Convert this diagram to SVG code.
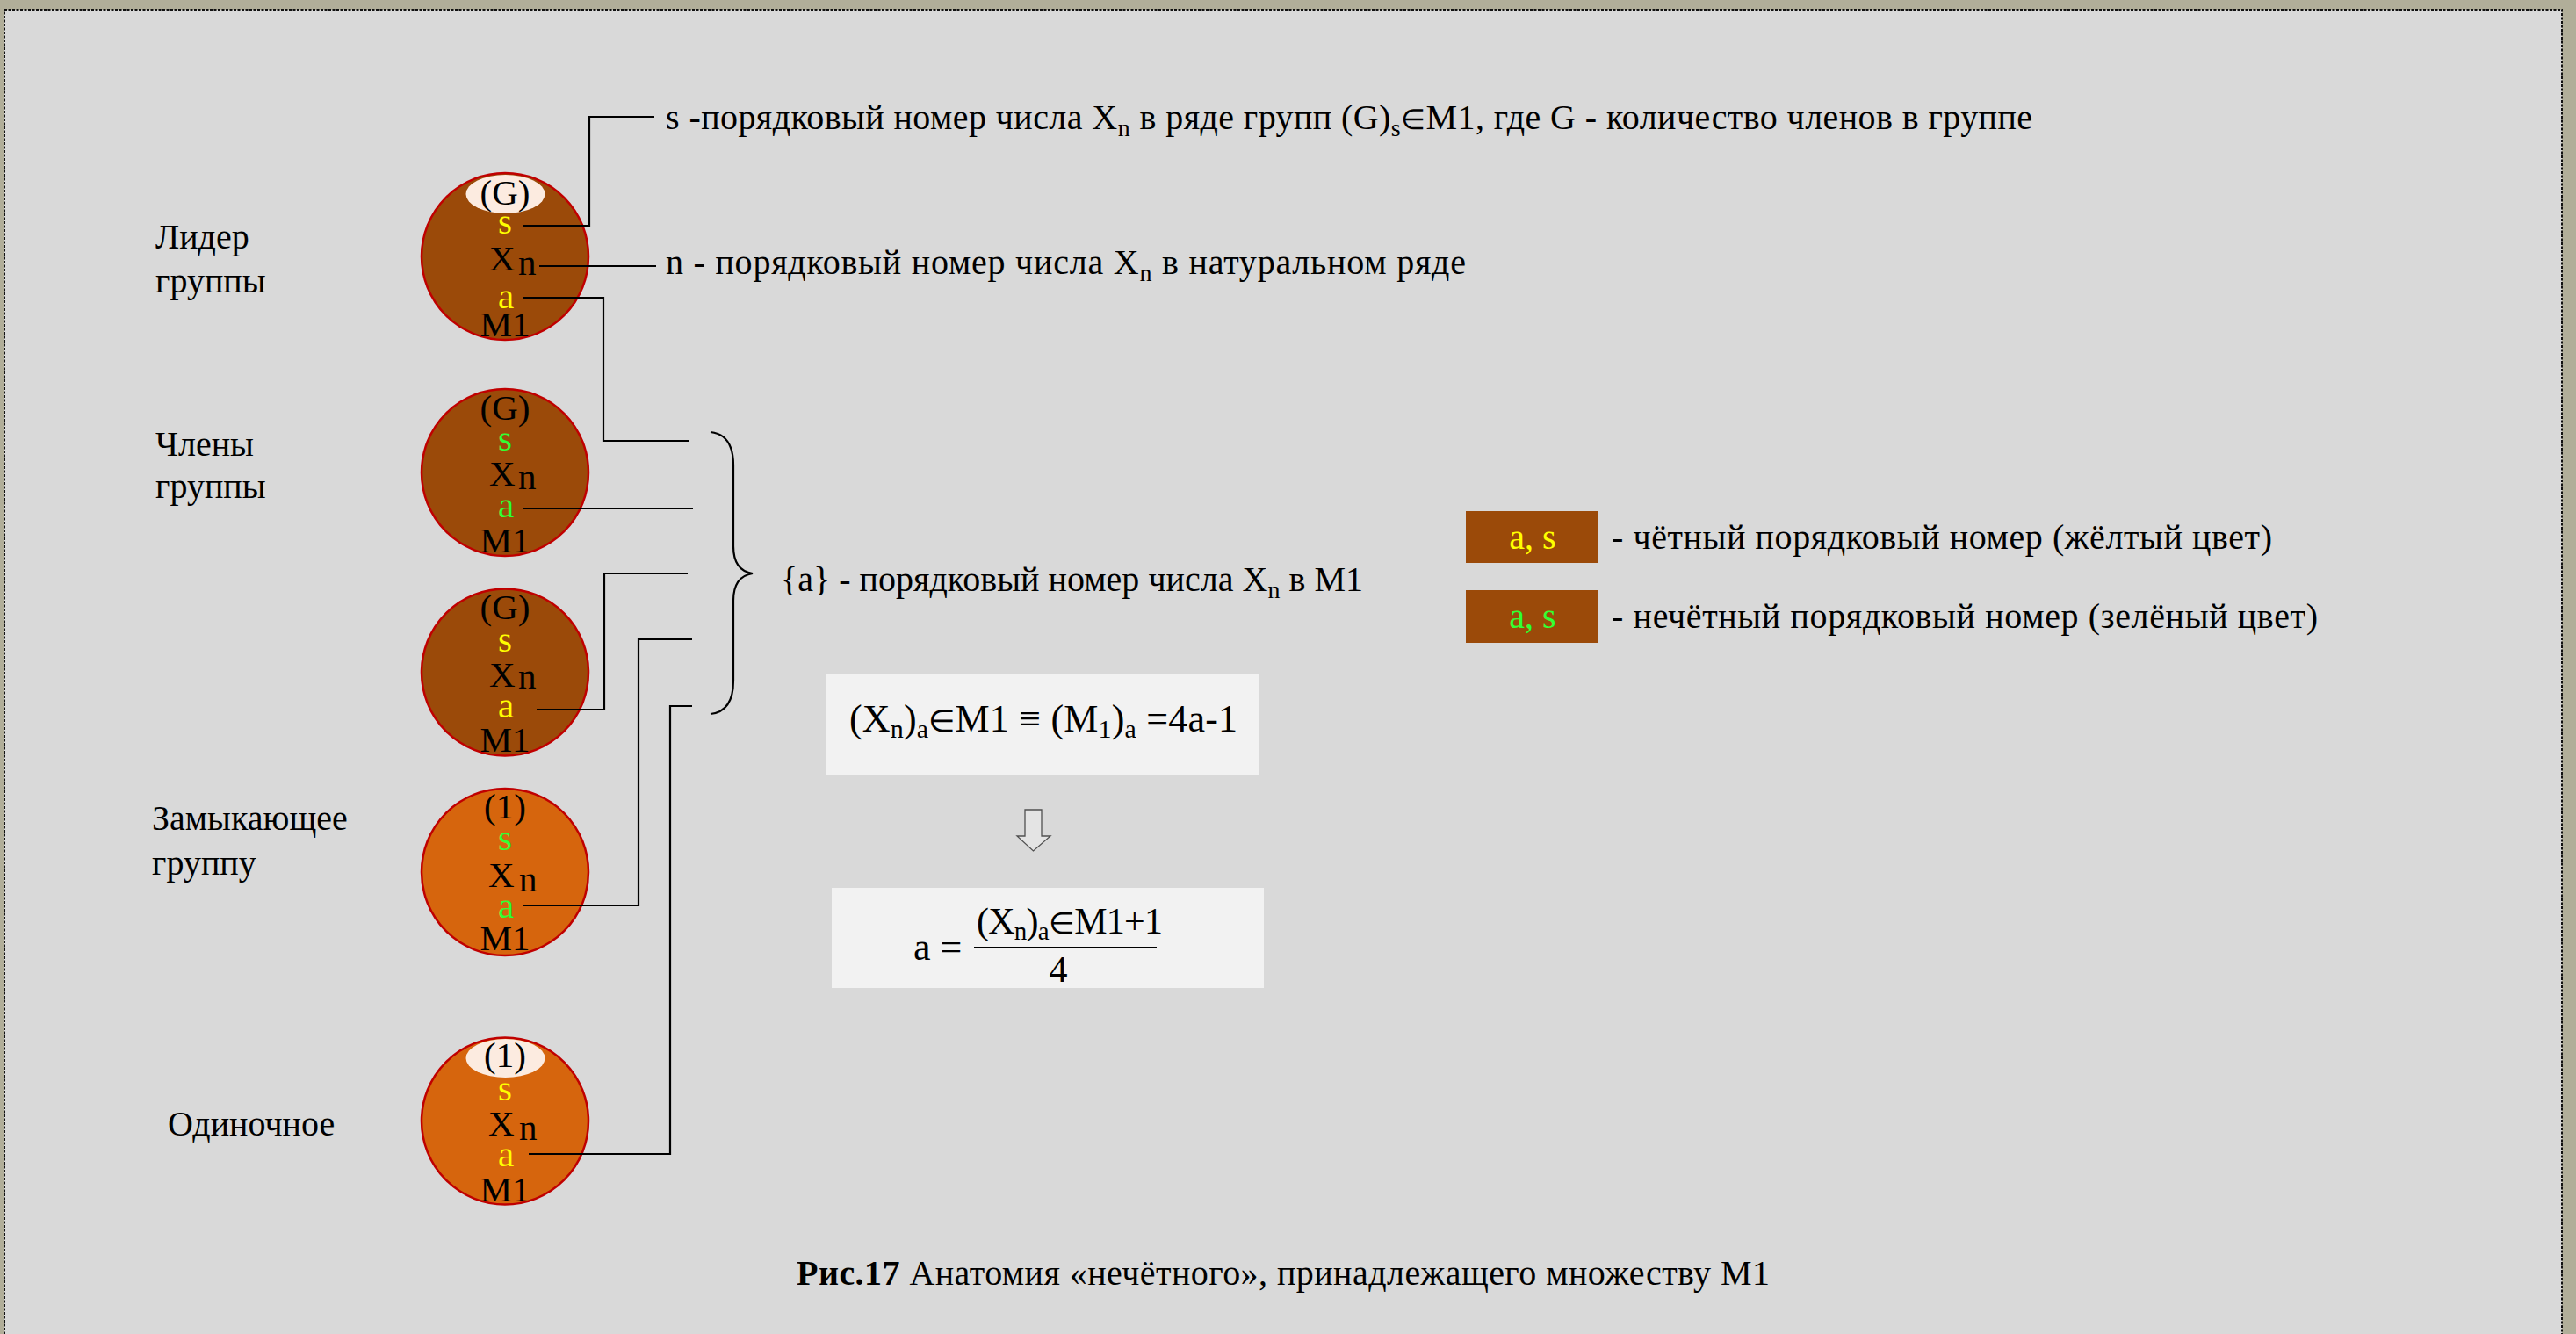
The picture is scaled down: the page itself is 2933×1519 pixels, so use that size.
<svg xmlns="http://www.w3.org/2000/svg" width="2933" height="1519" viewBox="0 0 2933 1519">
<style>
.t{font-family:"Liberation Serif","Times New Roman",serif;fill:#000}
.lbl{font-size:40px}
.main{font-size:40px}
.ct{font-size:41px;text-anchor:middle}
.cx{font-size:41px}
.y{fill:#ffff00}
.g{fill:#33ff33}
.brown{fill:#9b4a09;stroke:#c00000;stroke-width:2.5}
.orange{fill:#d6650d;stroke:#c00000;stroke-width:2.5}
.cap{fill:#fcebe0}
.ln{fill:none;stroke:#000;stroke-width:2.2}
.box{fill:#f2f2f2}
.leg{fill:#9b4a09}
.el{font-size:0.8em}
</style>
<rect x="0" y="0" width="2933" height="1519" fill="#b1ae99"/>
<rect x="5" y="11" width="2912" height="1530" fill="#d9d9d9" stroke="#111" stroke-width="2" stroke-dasharray="3,1.5"/>

<g id="label-leader" class="t lbl"><text x="177" y="283">Лидер</text><text x="177" y="333">группы</text></g>
<g id="label-members" class="t lbl"><text x="177" y="519">Члены</text><text x="177" y="567">группы</text></g>
<g id="label-closing" class="t lbl"><text x="173" y="945">Замыкающее</text><text x="173" y="996">группу</text></g>
<g id="label-single" class="t lbl"><text x="191" y="1293">Одиночное</text></g>

<g id="node-leader">
<circle class="brown" cx="575" cy="292" r="95"/>
<ellipse class="cap" cx="575.5" cy="221" rx="45" ry="22"/>
<text class="t ct" x="575" y="233">(G)</text>
<text class="t ct y" x="575" y="266">s</text>
<text class="t cx" x="557" y="308">X</text><text class="t cx" x="590" y="313">n</text>
<text class="t ct y" x="576" y="351">a</text>
<text class="t ct" x="575" y="383">M1</text>
</g>

<g id="node-member1">
<circle class="brown" cx="575" cy="538" r="95"/>
<text class="t ct" x="575" y="478">(G)</text>
<text class="t ct g" x="575" y="513">s</text>
<text class="t cx" x="557" y="553">X</text><text class="t cx" x="590" y="557">n</text>
<text class="t ct g" x="576" y="589">a</text>
<text class="t ct" x="575" y="629">M1</text>
</g>

<g id="node-member2">
<circle class="brown" cx="575" cy="765.5" r="95"/>
<text class="t ct" x="575" y="705">(G)</text>
<text class="t ct y" x="575" y="742">s</text>
<text class="t cx" x="557" y="782">X</text><text class="t cx" x="590" y="784">n</text>
<text class="t ct y" x="576" y="817">a</text>
<text class="t ct" x="575" y="856">M1</text>
</g>

<g id="node-closing">
<circle class="orange" cx="575" cy="993" r="95"/>
<text class="t ct" x="575" y="932">(1)</text>
<text class="t ct g" x="575" y="968">s</text>
<text class="t cx" x="556" y="1010">X</text><text class="t cx" x="591" y="1015">n</text>
<text class="t ct g" x="576" y="1045">a</text>
<text class="t ct" x="575" y="1082">M1</text>
</g>

<g id="node-single">
<circle class="orange" cx="575" cy="1276.5" r="95"/>
<ellipse class="cap" cx="575.5" cy="1205" rx="45" ry="22"/>
<text class="t ct" x="575" y="1215">(1)</text>
<text class="t ct y" x="575" y="1253">s</text>
<text class="t cx" x="556" y="1293">X</text><text class="t cx" x="591" y="1298">n</text>
<text class="t ct y" x="576" y="1328">a</text>
<text class="t ct" x="575" y="1368">M1</text>
</g>

<g id="connectors">
<polyline class="ln" points="595,257 671,257 671,133 745,133"/>
<polyline class="ln" points="614,303 747,303"/>
<polyline class="ln" points="595,339 687,339 687,502 785,502"/>
<polyline class="ln" points="595,579 789,579"/>
<polyline class="ln" points="611,808 688,808 688,653 783,653"/>
<polyline class="ln" points="596,1031 727,1031 727,728 788,728"/>
<polyline class="ln" points="602,1314 763,1314 763,804 788,804"/>
<path class="ln" stroke-width="2" d="M809,492 C828,494 835,508 835,530 L835,622 C835,642 843,651 857,653 C843,655 835,664 835,684 L835,775 C835,797 828,811 809,813"/>
</g>

<g id="desc-s"><text class="t main" x="758" y="147" textLength="1556">s -порядковый номер числа X<tspan font-size="28" dy="8">n</tspan><tspan dy="-8"> в ряде групп (G)</tspan><tspan font-size="28" dy="8">s</tspan><tspan dy="-8"><tspan class="el">∈</tspan>M1, где G - количество членов в группе</tspan></text></g>
<g id="desc-n"><text class="t main" x="758" y="312" textLength="911">n - порядковый номер числа X<tspan font-size="28" dy="8">n</tspan><tspan dy="-8"> в натуральном ряде</tspan></text></g>
<g id="desc-a"><text class="t main" x="889" y="673" textLength="663">{a} - порядковый номер числа X<tspan font-size="28" dy="8">n</tspan><tspan dy="-8"> в M1</tspan></text></g>

<g id="formula1">
<rect class="box" x="941" y="768" width="492" height="114"/>
<text class="t" font-size="44" x="967" y="833" textLength="442">(X<tspan font-size="30" dy="7">n</tspan><tspan dy="-7">)</tspan><tspan font-size="30" dy="7">a</tspan><tspan dy="-7"><tspan class="el">∈</tspan>M1 ≡ (M</tspan><tspan font-size="30" dy="7">1</tspan><tspan dy="-7">)</tspan><tspan font-size="30" dy="7">a</tspan><tspan dy="-7"> =4a-1</tspan></text>
</g>

<g id="arrow-down">
<polygon points="1167,922 1186,922 1186,952 1196,952 1176.5,969 1158,952 1167,952" fill="#e4e4e4" stroke="#505050" stroke-width="1.3"/>
</g>

<g id="formula2">
<rect class="box" x="947" y="1011" width="492" height="114"/>
<text class="t" font-size="44" x="1040" y="1093">a =</text>
<text class="t" font-size="42" x="1112" y="1063" textLength="212">(X<tspan font-size="29" dy="7">n</tspan><tspan dy="-7">)</tspan><tspan font-size="29" dy="7">a</tspan><tspan dy="-7"><tspan class="el">∈</tspan>M1+1</tspan></text>
<line x1="1109" y1="1079" x2="1317" y2="1079" stroke="#000" stroke-width="2"/>
<text class="t" font-size="42" x="1205" y="1118" text-anchor="middle">4</text>
</g>

<g id="legend-even">
<rect class="leg" x="1669" y="582" width="151" height="59"/>
<text class="t y" font-size="40" x="1745" y="625" text-anchor="middle">a, s</text>
<text class="t main" x="1835" y="625" textLength="752">- чётный порядковый номер (жёлтый цвет)</text>
</g>
<g id="legend-odd">
<rect class="leg" x="1669" y="672" width="151" height="60"/>
<text class="t g" font-size="40" x="1745" y="715" text-anchor="middle">a, s</text>
<text class="t main" x="1835" y="715" textLength="804">- нечётный порядковый номер (зелёный цвет)</text>
</g>

<g id="caption"><text class="t" font-size="40" x="907" y="1463" textLength="1108"><tspan font-weight="bold">Рис.17</tspan> Анатомия «нечётного», принадлежащего множеству М1</text></g>
</svg>
